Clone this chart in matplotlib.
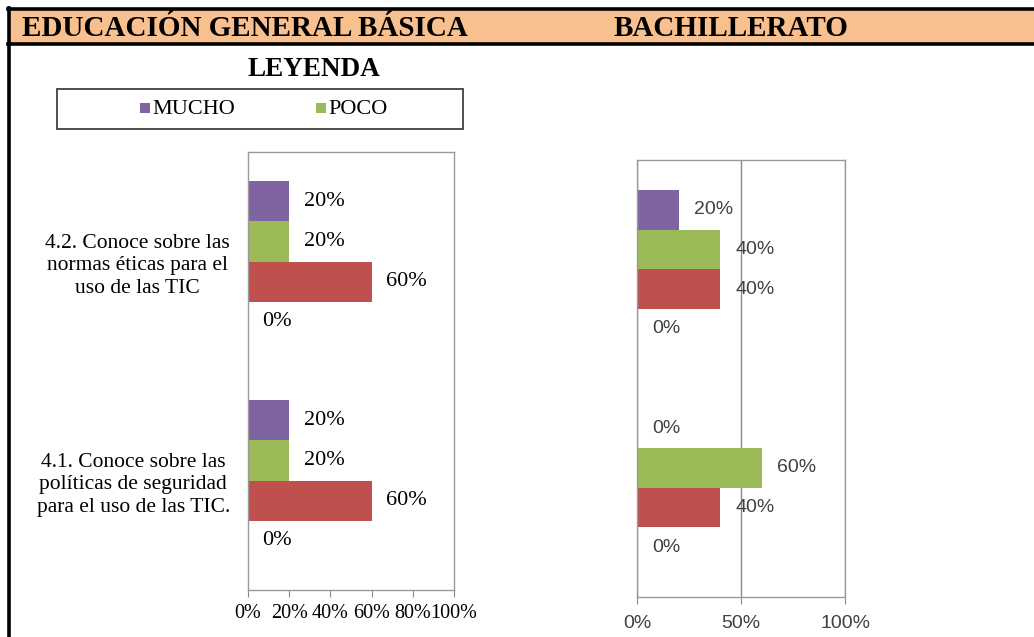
import matplotlib
matplotlib.use("Agg")
import matplotlib.pyplot as plt
from matplotlib.patches import Rectangle
from matplotlib.lines import Line2D

W, H = 1034, 637

# data (percent)
categories = [
    "4.1. Conoce sobre las\npolíticas de seguridad\npara el uso de las TIC.",
    "4.2. Conoce sobre las\nnormas éticas para el\nuso de las TIC",
]
series_names = ["MUCHO", "POCO", "NADA", "NO RESPONDE"]
series_colors = ["#8064A2", "#9BBB59", "#C0504D", "#4BACC6"]

egb_mucho = [20, 20]
egb_poco = [20, 20]
egb_nada = [60, 60]
egb_otro = [0, 0]

bach_mucho = [0, 20]
bach_poco = [60, 40]
bach_nada = [40, 40]
bach_otro = [0, 0]

left_ticks = [0, 20, 40, 60, 80, 100]
right_ticks = [0, 50, 100]


def px_axes(fig, x0, y0, x1, y1):
    # pixel box (top-left origin) -> figure fraction
    return fig.add_axes([x0 / W, 1 - y1 / H, (x1 - x0) / W, (y1 - y0) / H])


def draw_bars(ax, series, bar_h, label_kw, offset):
    pos = list(range(len(categories)))
    for i, (vals, color) in enumerate(zip(series, series_colors)):
        ys = [p + (1.5 - i) * bar_h for p in pos]
        ax.barh(ys, vals, height=bar_h, color=color, edgecolor="none")
        for y, v in zip(ys, vals):
            ax.annotate(f"{v}%", (v, y), xytext=(offset, 0),
                        textcoords="offset points", ha="left", va="center",
                        **label_kw)
    ax.set_ylim(-0.5, len(categories) - 0.5)


fig = plt.figure(figsize=(W / 100, H / 100), dpi=100)
fig.patch.set_facecolor("white")

# header band and table borders
fig.add_artist(Rectangle((8 / W, 1 - 45 / H), 1, 37 / H,
                         transform=fig.transFigure, facecolor="#F9C08F",
                         edgecolor="none"))
for xs, ys in [((8, W), (9, 9)), ((8, W), (44, 44)), ((9, 9), (8, H))]:
    fig.add_artist(Line2D([x / W for x in xs], [1 - y / H for y in ys],
                          transform=fig.transFigure, color="black", lw=2.6))

serif = "Liberation Serif"
fig.text(22 / W, 1 - 29 / H, "EDUCACIÓN GENERAL BÁSICA", family=serif,
         weight="bold", fontsize=21, ha="left", va="center")
fig.text(614 / W, 1 - 29 / H, "BACHILLERATO", family=serif,
         weight="bold", fontsize=21, ha="left", va="center")

# legend block
fig.text(314 / W, 1 - 69 / H, "LEYENDA", family=serif, weight="bold",
         fontsize=19.5, ha="center", va="center")
fig.add_artist(Rectangle((57 / W, 1 - 129 / H), 406 / W, 40 / H,
                         transform=fig.transFigure, facecolor="none",
                         edgecolor="#404040", lw=1.3))
for x, name, color in [(140, "MUCHO", series_colors[0]),
                       (316, "POCO", series_colors[1])]:
    fig.add_artist(Rectangle((x / W, 1 - 113 / H), 10 / W, 10 / H,
                             transform=fig.transFigure, facecolor=color,
                             edgecolor="none"))
    fig.text((x + 12) / W, 1 - 110 / H, name, family=serif, fontsize=16,
             ha="left", va="center")

# left chart: educación general básica
ax1 = px_axes(fig, 248, 152, 454, 590)
draw_bars(ax1, [egb_mucho, egb_poco, egb_nada, egb_otro], 0.183,
          dict(family=serif, fontsize=16, color="black"), 10.5)
ax1.set_xlim(0, 100)
ax1.set_xticks(left_ticks)
ax1.set_xticklabels([f"{t}%" for t in left_ticks], family=serif, fontsize=14.5)
ax1.set_yticks(range(len(categories)))
ax1.set_yticklabels(categories, family=serif, fontsize=15.5)
for lbl in ax1.get_yticklabels():
    lbl.set_multialignment("center")
    lbl.set_linespacing(1.24)
ax1.tick_params(axis="y", length=0, pad=13)
ax1.tick_params(axis="x", length=5, color="#888888", pad=5)
for s in ax1.spines.values():
    s.set_color("#9a9a9a")
    s.set_linewidth(1.0)

# right chart: bachillerato
ax2 = px_axes(fig, 637, 160, 845, 597)
draw_bars(ax2, [bach_mucho, bach_poco, bach_nada, bach_otro], 0.181,
          dict(family="Liberation Sans", fontsize=14, color="#404040"), 11)
ax2.set_xlim(0, 100)
ax2.set_xticks(right_ticks)
ax2.set_xticklabels([f"{t}%" for t in right_ticks], family="Liberation Sans",
                    fontsize=14, color="#404040")
ax2.set_yticks([])
ax2.grid(axis="x", color="#8a8a8a", lw=1.0)
ax2.set_axisbelow(True)
ax2.tick_params(axis="x", length=5, color="#888888", pad=8)
for s in ax2.spines.values():
    s.set_color("#9a9a9a")
    s.set_linewidth(1.0)

fig.savefig("out.png", dpi=100)
